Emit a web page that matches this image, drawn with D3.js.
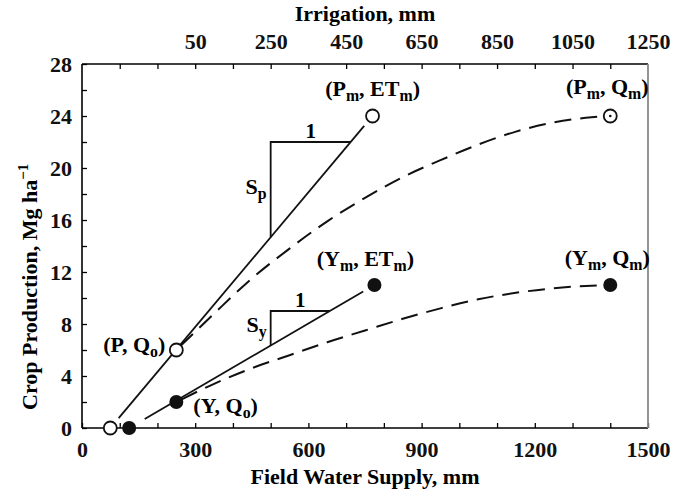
<!DOCTYPE html>
<html>
<head>
<meta charset="utf-8">
<script src="https://cdn.jsdelivr.net/npm/d3@7"></script>
<style>
  body { margin: 0; background: #fff }
  svg  { display: block; font-family: "Liberation Serif", "Times New Roman", serif; font-weight: bold }
  .axis path { display: none }
  .axis line { stroke: #000; stroke-width: 1.3 }
  .axis text { font-size: 22px; fill: #111; font-family: "Liberation Serif", serif }
</style>
</head>
<body>
<div id="chart"></div>
<script>
// Chart values
var bottomTicks = [0, 300, 600, 900, 1200, 1500]          // Field water supply labels
var topTicks    = [50, 250, 450, 650, 850, 1050, 1250]    // Irrigation labels
var irrOffset   = 250                                     // Irrigation = supply - offset
var leftTicks   = [0, 4, 8, 12, 16, 20, 24, 28]

// Key points [supply mm, production Mg/ha]
var pStart = [75, 0],   pQo = [250, 6],  pEtm = [770, 24], pQm = [1400, 24]
var yStart = [125, 0],  yQo = [250, 2],  yEtm = [775, 11], yQm = [1400, 11]

// Dashed response curves
var pCurve = [[250, 6], [350, 8.8], [450, 11.5], [550, 13.8], [650, 15.9], [750, 17.7],
              [850, 19.3], [950, 20.6], [1050, 21.8], [1150, 22.8], [1250, 23.5], [1350, 23.9], [1400, 24]]
var yCurve = [[250, 2], [350, 3.4], [450, 4.6], [550, 5.6], [650, 6.6], [750, 7.5],
              [850, 8.4], [950, 9.2], [1050, 9.9], [1150, 10.4], [1250, 10.75], [1350, 10.95], [1400, 11]]

// Slope triangles: vertical at x, horizontal at top
var spTri = { x: 500, top: 22 }
var syTri = { x: 500, top: 9 }

var W  = 674,
    H  = 492,
    mL = 82, // margins
    mR = 26,
    mT = 64,
    mB = 64,
    fs = 22  // font size

var svg = d3.select("#chart").append("svg")
            .attr("width", W)
            .attr("height", H)

var xScale   = d3.scaleLinear().domain([0, 1500]).range([mL, W - mR]),
    irrScale = d3.scaleLinear().domain([-irrOffset, 1500 - irrOffset]).range([mL, W - mR]),
    yScale   = d3.scaleLinear().domain([0, 28]).range([H - mB, mT])

// Axes (ticks point inward)
svg.append("g")
   .attr("class", "axis axis-x")
   .attr("transform", "translate(0," + (H - mB) + ")")
   .call(d3.axisBottom(xScale)
           .tickValues(d3.range(0, 1501, 100))
           .tickSizeInner(-5).tickSizeOuter(0).tickPadding(13)
           .tickFormat(function (d) { return bottomTicks.indexOf(d) >= 0 ? d : "" }))

svg.append("g")
   .attr("class", "axis axis-top")
   .attr("transform", "translate(0," + mT + ")")
   .call(d3.axisTop(xScale)
           .tickValues(d3.range(100, 1500, 100))
           .tickSizeInner(-5).tickSizeOuter(0)
           .tickFormat(""))

svg.append("g")
   .attr("class", "axis axis-irr")
   .attr("transform", "translate(0," + mT + ")")
   .call(d3.axisTop(irrScale)
           .tickValues(topTicks)
           .tickSize(0).tickPadding(15)
           .tickFormat(d3.format("d")))
   .selectAll("line").remove()

svg.append("g")
   .attr("class", "axis axis-y")
   .attr("transform", "translate(" + mL + ",0)")
   .call(d3.axisLeft(yScale)
           .tickValues(d3.range(0, 29, 2))
           .tickSizeInner(-5).tickSizeOuter(0).tickPadding(10)
           .tickFormat(function (d) { return leftTicks.indexOf(d) >= 0 ? d : "" }))

// Frame
var frame = svg.append("g").attr("class", "frame")
frame.append("line").attr("x1", mL).attr("x2", W - mR).attr("y1", mT).attr("y2", mT)
frame.append("line").attr("x1", mL).attr("x2", W - mR).attr("y1", H - mB).attr("y2", H - mB)
frame.append("line").attr("x1", mL).attr("x2", mL).attr("y1", mT).attr("y2", H - mB)
frame.selectAll("line").attr("stroke", "#000").attr("stroke-width", 1.6)
frame.append("line").attr("x1", W - mR).attr("x2", W - mR).attr("y1", mT).attr("y2", H - mB)
     .attr("stroke", "#888").attr("stroke-width", 1.8)

// Axis titles
svg.append("text")
   .attr("x", (mL + W - mR) / 2).attr("y", 21)
   .attr("text-anchor", "middle").attr("font-size", fs)
   .text("Irrigation, mm")
svg.append("text")
   .attr("x", (mL + W - mR) / 2).attr("y", 484)
   .attr("text-anchor", "middle").attr("font-size", fs)
   .text("Field Water Supply, mm")

var yTitle = svg.append("text")
   .attr("transform", "translate(37,410) rotate(-90)")
   .attr("font-size", fs)
yTitle.append("tspan").text("Crop Production, Mg ha")
yTitle.append("tspan").attr("font-size", 15).attr("dy", -9).text("\u22121")

// Write label with "_x" subscripts
var richText = function (g, str, size) {
  var parts = str.split(/(_.)/), shifted = false
  parts.forEach(function (p) {
    if (!p) return
    var t = g.append("tspan")
    if (p[0] === "_") {
      t.attr("font-size", size * 0.72).attr("dy", shifted ? 0 : 5).text(p[1])
      shifted = true
    } else {
      t.attr("dy", shifted ? -5 : 0).text(p)
      shifted = false
    }
  })
  return g
}

// Solid lines, trimmed a bit short of their end circles
var trimmed = function (a, b, startGap, endGap) {
  var x1 = xScale(a[0]), y1 = yScale(a[1]), x2 = xScale(b[0]), y2 = yScale(b[1]),
      len = Math.hypot(x2 - x1, y2 - y1),
      ux = (x2 - x1) / len, uy = (y2 - y1) / len
  return [[x1 + ux * startGap, y1 + uy * startGap], [x2 - ux * endGap, y2 - uy * endGap]]
}
var solid = [trimmed(pStart, pEtm, 13, 13), trimmed(yStart, yEtm, 18, 13)]
svg.selectAll(".solid")
   .data(solid)
   .enter().append("line")
     .attr("class", "solid")
     .attr("x1", function (d) { return d[0][0] }).attr("y1", function (d) { return d[0][1] })
     .attr("x2", function (d) { return d[1][0] }).attr("y2", function (d) { return d[1][1] })
     .attr("stroke", "#111").attr("stroke-width", 1.8)

// Dashed curves
var curve = d3.line()
              .x(function (d) { return xScale(d[0]) })
              .y(function (d) { return yScale(d[1]) })
              .curve(d3.curveMonotoneX)
svg.selectAll(".dashed")
   .data([pCurve, yCurve])
   .enter().append("path")
     .attr("class", "dashed")
     .attr("d", curve)
     .attr("fill", "none")
     .attr("stroke", "#111").attr("stroke-width", 2)
     .attr("stroke-dasharray", "17,9")
     .attr("stroke-dashoffset", -6)

// Slope triangles
var onLine = function (a, b, v, byY) {
  if (byY) return a[0] + (v - a[1]) * (b[0] - a[0]) / (b[1] - a[1])
  return a[1] + (v - a[0]) * (b[1] - a[1]) / (b[0] - a[0])
}
var drawTri = function (tri, a, b, sub) {
  var yLow = onLine(a, b, tri.x, false),
      xEnd = onLine(a, b, tri.top, true),
      g    = svg.append("g").attr("class", "triangle")
  g.append("path")
   .attr("d", "M" + xScale(tri.x) + "," + yScale(yLow) +
              "V" + yScale(tri.top) + "H" + xScale(xEnd))
   .attr("fill", "none").attr("stroke", "#111").attr("stroke-width", 1.8)
  g.append("text")
   .attr("x", (xScale(tri.x) + xScale(xEnd)) / 2).attr("y", yScale(tri.top) - 4)
   .attr("text-anchor", "middle").attr("font-size", 21)
   .text("1")
  richText(g.append("text")
            .attr("x", xScale(tri.x) - 4).attr("y", (yScale(tri.top) + yScale(yLow)) / 2 + 4)
            .attr("text-anchor", "end").attr("font-size", fs), "S_" + sub, fs)
}
drawTri(spTri, pStart, pEtm, "p")
drawTri(syTri, yStart, yEtm, "y")

// Points
var openPts   = [pStart, pQo, pEtm, pQm],
    filledPts = [yStart, yQo, yEtm, yQm]
svg.selectAll(".open")
   .data(openPts)
   .enter().append("circle")
     .attr("class", "open")
     .attr("cx", function (d) { return xScale(d[0]) })
     .attr("cy", function (d) { return yScale(d[1]) })
     .attr("r", 6.5)
     .attr("fill", "#fff").attr("stroke", "#111").attr("stroke-width", 1.8)
svg.append("circle")
   .attr("cx", xScale(pQm[0])).attr("cy", yScale(pQm[1]))
   .attr("r", 1.3).attr("fill", "#111")
svg.selectAll(".filled")
   .data(filledPts)
   .enter().append("circle")
     .attr("class", "filled")
     .attr("cx", function (d) { return xScale(d[0]) })
     .attr("cy", function (d) { return yScale(d[1]) })
     .attr("r", 7)
     .attr("fill", "#111")

// Point labels [point, text, dx, dy, anchor]
var labels = [
  [pEtm, "(P_m, ET_m)",  0, -20, "middle"],
  [pQm,  "(P_m, Q_m)",  -3, -22, "middle"],
  [yEtm, "(Y_m, ET_m)", -9, -19, "middle"],
  [yQm,  "(Y_m, Q_m)",  -3, -20, "middle"],
  [pQo,  "(P, Q_o)",   -11,   2, "end"],
  [yQo,  "(Y, Q_o)",    17,  11, "start"]
]
labels.forEach(function (l) {
  richText(svg.append("text")
              .attr("class", "ptLabel")
              .attr("x", xScale(l[0][0]) + l[2])
              .attr("y", yScale(l[0][1]) + l[3])
              .attr("text-anchor", l[4])
              .attr("font-size", fs), l[1], fs)
})
</script>
</body>
</html>
